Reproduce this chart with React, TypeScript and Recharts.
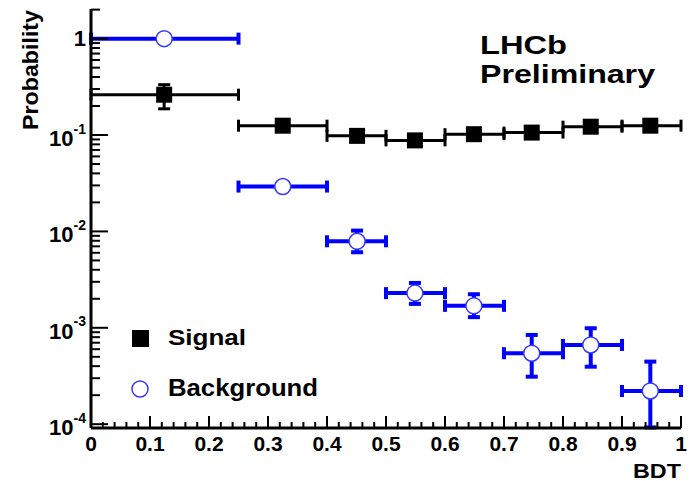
import { ScatterChart, Scatter, XAxis, YAxis, ErrorBar } from 'recharts'

// ── Figura BDT: probabilidad señal / fondo ─────────────────
const W = 695
const H = 481
const FONT = "'Liberation Sans', Arial, Helvetica, sans-serif"
const BLUE = '#0000ff'

const binLo = [0, 0.25, 0.4, 0.5, 0.6, 0.7, 0.8, 0.9]
const binHi = [0.25, 0.4, 0.5, 0.6, 0.7, 0.8, 0.9, 1.0]
const pointX = [0.124, 0.325, 0.451, 0.549, 0.649, 0.747, 0.847, 0.948]

const sigY  = [0.262, 0.125, 0.098, 0.088, 0.102, 0.106, 0.122, 0.125]
const sigLo = [0.187, 0.119, 0.093, 0.083, 0.097, 0.101, 0.117, 0.120]
const sigHi = [0.333, 0.131, 0.103, 0.093, 0.107, 0.111, 0.127, 0.130]

const bkgY  = [1.0, 0.0292, 0.0079, 0.00229, 0.00169, 0.000545, 0.000664, 0.000221]
const bkgLo = [0.97, 0.0285, 0.00608, 0.00177, 0.00129, 0.000311, 0.000395, 0.0000925]
const bkgHi = [1.03, 0.0300, 0.0102, 0.00292, 0.00223, 0.000843, 0.00099, 0.000446]

const xMajor = [0, 0.1, 0.2, 0.3, 0.4, 0.5, 0.6, 0.7, 0.8, 0.9, 1]
const yMajor = [1e-4, 1e-3, 1e-2, 1e-1, 1]
const yLabels = ['10', '10', '10', '10', '1']
const ySup = ['-4', '-3', '-2', '-1', '']

const Y_DOMAIN: [number, number] = [0.913e-4, 2.03]

const xTicks = Array.from({ length: 51 }, (_, i) => i / 50)
const yTicks = [
  ...yMajor,
  ...[1e-4, 1e-3, 1e-2, 1e-1, 1].flatMap(d => [2, 3, 4, 5, 6, 7, 8, 9].map(m => m * d)),
].filter(v => v >= Y_DOMAIN[0] && v <= Y_DOMAIN[1]).sort((a, b) => a - b)

const build = (ys: number[], lo: number[], hi: number[]) =>
  ys.map((y, i) => ({
    x: pointX[i],
    y,
    ex: [pointX[i] - binLo[i], binHi[i] - pointX[i]],
    ey: [y - lo[i], hi[i] - y],
  }))

const signal = build(sigY, sigLo, sigHi)
const background = build(bkgY, bkgLo, bkgHi)

const isMajorX = (v: number) => xMajor.some(m => Math.abs(v - m) < 1e-6)
const majorYIndex = (v: number) => yMajor.findIndex(m => Math.abs(v / m - 1) < 1e-6)

const txt = { fontFamily: FONT, fontWeight: 700, fill: '#000' } as const

// ── Ticks ──────────────────────────────────────────────────
function XTickBottom({ x, y, payload }: any) {
  const major = isMajorX(payload.value)
  return (
    <g>
      <line x1={x} x2={x} y1={y} y2={y - (major ? 12 : 6)} stroke="#000" strokeWidth={2} />
      {major && (
        <text x={x} y={y + 23} textAnchor="middle" fontSize={21} {...txt}>
          {String(Math.round(payload.value * 10) / 10)}
        </text>
      )}
    </g>
  )
}

function XTickTop({ x, y, payload }: any) {
  const major = isMajorX(payload.value)
  return <line x1={x} x2={x} y1={y} y2={y + (major ? 12 : 6)} stroke="#000" strokeWidth={2} />
}

function YTickLeft({ x, y, payload }: any) {
  const k = majorYIndex(payload.value)
  const major = k >= 0
  return (
    <g>
      <line x1={x} x2={x + (major ? 17 : 9)} y1={y} y2={y} stroke="#000" strokeWidth={2} />
      {major && (
        <text x={86} y={y + (ySup[k] ? 11 : 7.5)} textAnchor="end" fontSize={22} {...txt}>
          <tspan>{yLabels[k]}</tspan>
          {ySup[k] && <tspan dy={-12.5} fontSize={14}>{ySup[k]}</tspan>}
        </text>
      )}
    </g>
  )
}

function YTickRight({ x, y, payload }: any) {
  const major = majorYIndex(payload.value) >= 0
  return <line x1={x} x2={x - (major ? 17 : 9)} y1={y} y2={y} stroke="#000" strokeWidth={2} />
}

// ── Marcadores ─────────────────────────────────────────────
const SquareMarker = ({ cx, cy }: any) => (
  <rect x={cx - 8} y={cy - 8} width={16} height={16} fill="#000" />
)
const CircleMarker = ({ cx, cy }: any) => (
  <circle cx={cx} cy={cy} r={8} fill="#fff" stroke="#3838ff" strokeWidth={1.5} />
)

const axisLine = { stroke: '#000', strokeWidth: 3 }

export default function App() {
  return (
    <div style={{ position: 'absolute', left: 0, top: 0, width: W, height: H, background: '#fff' }}>
      <ScatterChart width={W} height={H} margin={{ top: 9, right: 14, bottom: 0, left: 0 }}>
        <XAxis xAxisId="b" dataKey="x" type="number" domain={[0, 1]} allowDataOverflow
          ticks={xTicks} interval={0} height={53} tickSize={0} tickMargin={0}
          axisLine={axisLine} tickLine={false} tick={<XTickBottom />} />
        <XAxis xAxisId="t" orientation="top" type="number" domain={[0, 1]} allowDataOverflow
          ticks={xTicks} interval={0} height={0} tickSize={0} tickMargin={0}
          axisLine={axisLine} tickLine={false} tick={<XTickTop />} />
        <YAxis yAxisId="l" dataKey="y" type="number" scale="log" domain={Y_DOMAIN} allowDataOverflow
          ticks={yTicks} interval={0} width={91} tickSize={0} tickMargin={0}
          axisLine={axisLine} tickLine={false} tick={<YTickLeft />} />
        <YAxis yAxisId="r" orientation="right" type="number" scale="log" domain={Y_DOMAIN} allowDataOverflow
          ticks={yTicks} interval={0} width={0} tickSize={0} tickMargin={0}
          axisLine={axisLine} tickLine={false} tick={<YTickRight />} />

        <Scatter data={signal} xAxisId="b" yAxisId="l" shape={<SquareMarker />} isAnimationActive={false}>
          <ErrorBar dataKey="ex" direction="x" stroke="#000" strokeWidth={3} width={6} />
          <ErrorBar dataKey="ey" direction="y" stroke="#000" strokeWidth={3} width={6} />
        </Scatter>
        <Scatter data={background} xAxisId="b" yAxisId="l" shape={<CircleMarker />} isAnimationActive={false}>
          <ErrorBar dataKey="ex" direction="x" stroke={BLUE} strokeWidth={4} width={6} />
          <ErrorBar dataKey="ey" direction="y" stroke={BLUE} strokeWidth={4} width={6} />
        </Scatter>
      </ScatterChart>

      {/* Textos y leyenda */}
      <svg width={W} height={H} style={{ position: 'absolute', left: 0, top: 0, pointerEvents: 'none' }}>
        <text x={38} y={10} transform="rotate(-90 38 10)" textAnchor="end" fontSize={22}
          textLength={120} lengthAdjust="spacingAndGlyphs" {...txt}>Probability</text>
        <text x={681} y={478} textAnchor="end" fontSize={21}
          textLength={48} lengthAdjust="spacingAndGlyphs" {...txt}>BDT</text>
        <text x={480} y={54} fontSize={25} textLength={87} lengthAdjust="spacingAndGlyphs" {...txt}>LHCb</text>
        <text x={480} y={83} fontSize={25} textLength={175} lengthAdjust="spacingAndGlyphs" {...txt}>Preliminary</text>

        <rect x={132} y={330} width={17} height={17} fill="#000" />
        <text x={168} y={345} fontSize={22} textLength={78} lengthAdjust="spacingAndGlyphs" {...txt}>Signal</text>
        <circle cx={140} cy={389} r={8} fill="#fff" stroke="#3838ff" strokeWidth={1.5} />
        <text x={168} y={396} fontSize={23} textLength={150} lengthAdjust="spacingAndGlyphs" {...txt}>Background</text>
      </svg>
    </div>
  )
}
